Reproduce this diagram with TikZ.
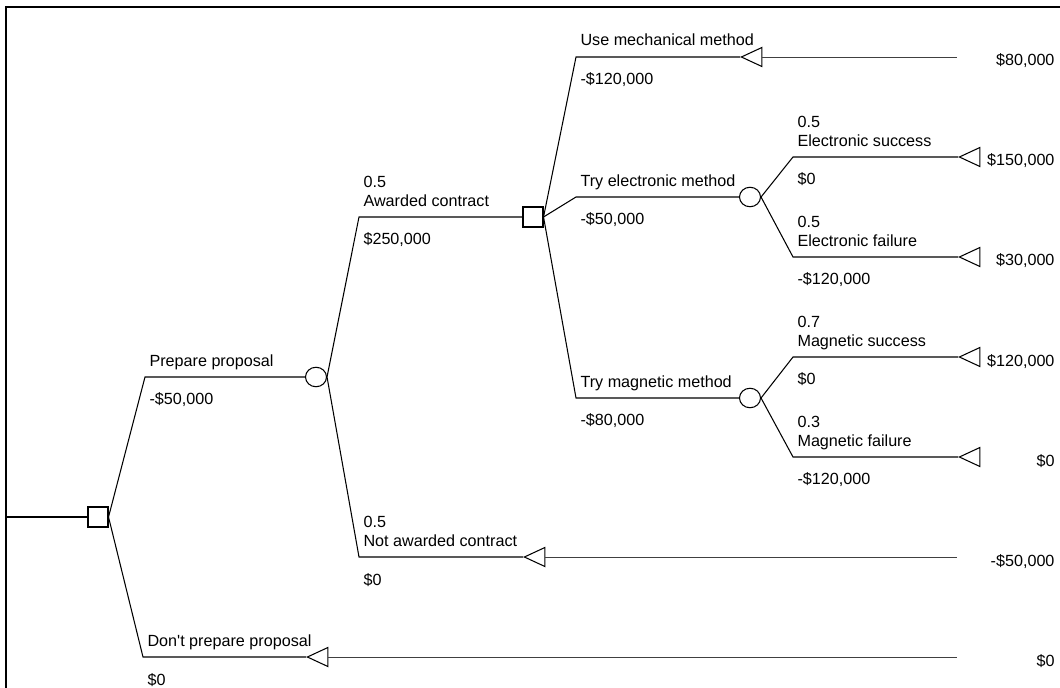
\documentclass[tikz,border=0pt]{standalone}
\usepackage{fontspec}
\setmainfont{Liberation Sans}
\usetikzlibrary{shapes.geometric}

\begin{document}
\begin{tikzpicture}[x=0.02cm,y=0.02cm,font=\fontsize{9.2}{10.8}\selectfont,line width=0.6pt]

		\tikzset{dec/.style={rectangle, draw, minimum size=4mm, inner sep=0pt},
				chc/.style={ellipse, draw, minimum width=4.2mm, minimum height=3.9mm, inner sep=0pt},
				trm/.style={isosceles triangle, isosceles triangle stretches,
							shape border rotate=180, draw,
							minimum width=3.8mm, minimum height=4.1mm,
							inner sep=0pt, anchor=apex},
				hi/.style={pos=0, anchor=base west, inner sep=0pt,
						   xshift=0.8mm, yshift=2.2mm, align=left},
				lo/.style={pos=0, anchor=base west, inner sep=0pt,
						   xshift=0.8mm, yshift=-5.6mm},
				pay/.style={anchor=base east, inner sep=0pt},
				tail/.style={line width=0.4pt, draw=black!75}}

		\clip (0,0) rectangle (1060,687);
		\draw[line width=1.2pt] (6,680) rectangle (1100,-40);

		% decision and chance nodes
		\node[dec] (D1) at (98,170) {};
		\node[chc] (C1) at (316,310) {};
		\node[dec] (D2) at (533,470) {};
		\node[chc] (C2) at (750,490) {};
		\node[chc] (C3) at (750,289) {};

		% branch corners
		\coordinate (s) at (6,170);
		\coordinate (pp) at (145,310);
		\coordinate (dp) at (143,30);
		\coordinate (aw) at (359,470);
		\coordinate (na) at (359,130);
		\coordinate (um) at (576,630);
		\coordinate (te) at (576,490);
		\coordinate (tm) at (576,289);
		\coordinate (es) at (793,530);
		\coordinate (ef) at (793,430);
		\coordinate (ms) at (793,330);
		\coordinate (mf) at (793,230);

		% end nodes
		\node[trm] (T1) at (740,630) {};
		\node[trm] (T2) at (523,130) {};
		\node[trm] (T3) at (306,30) {};
		\node[trm] (T4) at (958,530) {};
		\node[trm] (T5) at (958,430) {};
		\node[trm] (T6) at (958,330) {};
		\node[trm] (T7) at (958,230) {};
		\coordinate (e1) at (957,630);
		\coordinate (e2) at (957,130);
		\coordinate (e3) at (957,30);

		% payoffs
		\node[pay] (v1) at (1055,621) {\$80,000};
		\node[pay] (v2) at (1055,521) {\$150,000};
		\node[pay] (v3) at (1055,421) {\$30,000};
		\node[pay] (v4) at (1055,321) {\$120,000};
		\node[pay] (v5) at (1055,221) {\$0};
		\node[pay] (v6) at (1055,121) {-\$50,000};
		\node[pay] (v7) at (1055,21) {\$0};

		\draw (s) -- (D1.west);
		\draw (D1.east) -- (pp) -- node[hi] {Prepare proposal} node[lo] {-\$50,000} (C1.west);
		\draw (D1.east) -- (dp) -- node[hi] {Don\textquotesingle t prepare proposal} node[lo] {\$0} (T3.apex);
		\draw (C1.east) -- (aw) -- node[hi] {0.5\\Awarded contract} node[lo] {\$250,000} (D2.west);
		\draw (C1.east) -- (na) -- node[hi] {0.5\\Not awarded contract} node[lo] {\$0} (T2.apex);
		\draw (D2.east) -- (um) -- node[hi] {Use mechanical method} node[lo] {-\$120,000} (T1.apex);
		\draw (D2.east) -- (te) -- node[hi] {Try electronic method} node[lo] {-\$50,000} (C2.west);
		\draw (D2.east) -- (tm) -- node[hi] {Try magnetic method} node[lo] {-\$80,000} (C3.west);
		\draw (C2.east) -- (es) -- node[hi] {0.5\\Electronic success} node[lo] {\$0} (T4.apex);
		\draw (C2.east) -- (ef) -- node[hi] {0.5\\Electronic failure} node[lo] {-\$120,000} (T5.apex);
		\draw (C3.east) -- (ms) -- node[hi] {0.7\\Magnetic success} node[lo] {\$0} (T6.apex);
		\draw (C3.east) -- (mf) -- node[hi] {0.3\\Magnetic failure} node[lo] {-\$120,000} (T7.apex);

		\draw[tail] (T1.lower side) -- (e1);
		\draw[tail] (T2.lower side) -- (e2);
		\draw[tail] (T3.lower side) -- (e3);
\end{tikzpicture}
\end{document}
